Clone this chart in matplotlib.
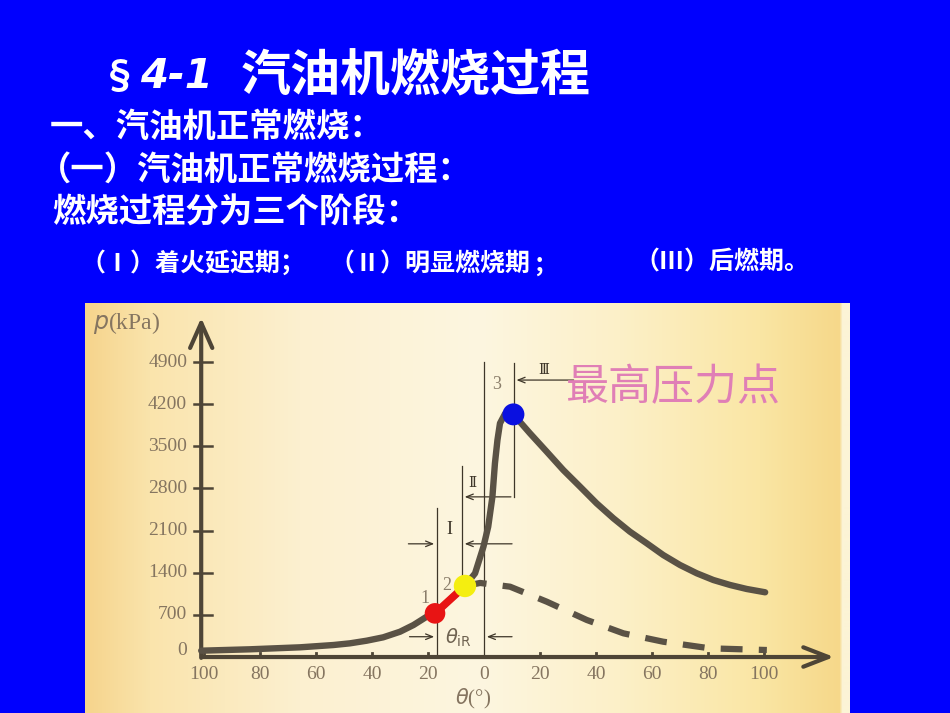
import numpy as np
import matplotlib.pyplot as plt

# crank angle (deg, minus = before TDC) / cylinder pressure (kPa)
theta_fired = [-101, -83.6, -65.7, -53.8, -47.9, -41.9, -36, -30, -25.2, -20.5,
               -17.5, -6.8, -3.2, -0.2, 1.5, 3.0, 3.9, 4.8, 5.7, 7.5, 10.5,
               16.4, 22.4, 28.3, 34.3, 40.2, 46.2, 52.1, 58.1, 64, 70, 76,
               81.9, 87.9, 93.8, 100.4]
p_fired = [105, 128, 161, 199, 227, 271, 327, 420, 531, 669,
           725, 1180, 1390, 1833, 2165, 2663, 3217, 3605, 3882, 4040, 4030,
           3716, 3410, 3106, 2829, 2553, 2304, 2082, 1889, 1694, 1528, 1390,
           1279, 1196, 1130, 1075]

# motoring (no combustion) curve after point 2
theta_motored = [-6.8, -1.4, 9.3, 22.4, 36.7, 49.8, 64, 80.7, 101]
p_motored = [1180, 1230, 1168, 919, 615, 393, 254, 144, 116]

# characteristic points 1, 2, 3
pt_theta = [-17.5, -6.8, 10.5]
pt_p = [725, 1180, 4030]
pt_labels = ['1', '2', '3']
pt_colors = ['#e81414', '#f4ee10', '#0a10e0']

x_ticks = [-100, -80, -60, -40, -20, 0, 20, 40, 60, 80, 100]
x_ticklabels = ['100', '80', '60', '40', '20', '0', '20', '40', '60', '80', '100']
y_ticks = [0, 700, 1400, 2100, 2800, 3500, 4200, 4900]

CJK = ['Noto Sans CJK SC', 'DejaVu Sans']
axis_c = '#4e4536'
tick_c = '#857560'
dim_c = '#3e3629'

fig = plt.figure(figsize=(9.5, 7.13), dpi=100, facecolor='#0000fe')

# slide text
fig.text(101/950, 1-77/713, '§', fontsize=27, color='white', fontweight='bold',
         va='center', family=CJK)
fig.text(140/950, 1-77/713, '4-1', fontsize=29, color='white', fontweight='bold',
         style='italic', va='center', family='DejaVu Sans')
fig.text(241/950, 1-77/713, '汽油机燃烧过程', fontsize=36, color='white',
         fontweight='black', va='center', family=CJK)
fig.text(50/950, 1-127/713, '一、汽油机正常燃烧：', fontsize=24, color='white',
         fontweight='bold', va='center', family=CJK)
fig.text(38/950, 1-170/713, '（一）汽油机正常燃烧过程：', fontsize=24, color='white',
         fontweight='bold', va='center', family=CJK)
fig.text(52/950, 1-213/713, '燃烧过程分为三个阶段：', fontsize=24, color='white',
         fontweight='bold', va='center', family=CJK)
for x0, s in [(80, '（Ⅰ）着火延迟期；'), (330, '（Ⅱ）明显燃烧期 ;'), (634, '（Ⅲ）后燃期。')]:
    fig.text(x0/950, 1-263/713, s, fontsize=18, color='white', fontweight='bold',
             va='center', family=CJK)

# chart picture area
ax = fig.add_axes([85/950, 0, 765/950, 410/713])
x0, x1, y0, y1 = -142.5, 130.7, -930, 5880
ax.set_xlim(x0, x1)
ax.set_ylim(y0, y1)
ax.axis('off')

stops_px = [85, 150, 300, 480, 620, 760, 840, 843, 850]
stops_rgb = [(246, 212, 140), (250, 228, 172), (252, 240, 208), (253, 246, 224),
             (252, 240, 200), (250, 230, 164), (246, 216, 138), (252, 244, 214),
             (252, 244, 214)]
px = np.arange(85, 851)
grad = np.stack([np.interp(px, stops_px, [c[i] for c in stops_rgb]) for i in range(3)], axis=-1) / 255
ax.imshow(grad[None, :, :], extent=(x0, x1, y0, y1), aspect='auto', zorder=0)

# axes with arrows
ax.annotate('', xy=(126, 0), xytext=(-101.5, 0),
            arrowprops=dict(arrowstyle='->, head_length=0.9, head_width=0.35',
                            lw=3, color=axis_c, mutation_scale=20))
ax.annotate('', xy=(-101, 5680), xytext=(-101, -60),
            arrowprops=dict(arrowstyle='->, head_length=0.9, head_width=0.4',
                            lw=3, color=axis_c, mutation_scale=20))

for v in y_ticks[1:]:
    ax.plot([-103.5, -97], [v, v], color=axis_c, lw=1.8, zorder=2)
for v in y_ticks:
    ax.text(-106, v + (100 if v == 0 else 0), str(v), ha='right', va='center',
            fontsize=14, color=tick_c, family='Liberation Serif')
for v, s in zip(x_ticks, x_ticklabels):
    if v != 0:
        ax.plot([v, v], [0, 60], color=axis_c, lw=2, zorder=2)
    ax.text(v, -290, s, ha='center', va='center', fontsize=14, color=tick_c,
            family='Liberation Serif')

ax.text(-139.5, 5550, '$p$(kPa)', ha='left', va='center', fontsize=17, color=tick_c,
        family='Liberation Serif')
ax.text(-4, -700, r'$\theta$(°)', ha='center', va='center', fontsize=15,
        color=tick_c, family='Liberation Serif')

# dimension lines of the three stages
b1, b2, b3, b4 = -16.8, -7.9, 0, 10.6
seg = dict(color=dim_c, lw=0.9, zorder=2)
ax.plot([b1, b1], [0, 2475], **seg)
ax.plot([b2, b2], [1230, 3180], **seg)
ax.plot([b3, b3], [0, 4900], **seg)
ax.plot([b4, b4], [2660, 4880], **seg)

arr = dict(arrowstyle='->, head_length=0.5, head_width=0.2', lw=0.9, color=dim_c,
           mutation_scale=10)
ax.annotate('', xy=(b1, 1880), xytext=(-28, 1880), arrowprops=arr)
ax.annotate('', xy=(b2, 1880), xytext=(11, 1880), arrowprops=arr)
ax.annotate('', xy=(b2, 2660), xytext=(b4, 2660), arrowprops=arr)
ax.annotate('', xy=(b4, 4600), xytext=(33, 4600), arrowprops=arr)
ax.annotate('', xy=(b1, 337), xytext=(-27.6, 337), arrowprops=arr)
ax.annotate('', xy=(b3, 337), xytext=(11, 337), arrowprops=arr)

ax.text(-12.4, 2110, 'I', ha='center', va='center', fontsize=13, color=dim_c,
        family='Liberation Serif')
ax.text(-4.3, 2890, 'Ⅱ', ha='center', va='center', fontsize=10, color=dim_c,
        family=['DejaVu Serif'])
ax.text(21.2, 4770, 'Ⅲ', ha='center', va='center', fontsize=10, color=dim_c,
        family=['DejaVu Serif'])
ax.text(-9.0, 310, r'$\theta_{\mathrm{iR}}$', ha='center', va='center', fontsize=14,
        color='#6e6250')

# curves
ax.plot(theta_motored, p_motored, color='#5a5245', lw=4.5, dashes=(3.5, 2.6),
        solid_capstyle='butt', zorder=3)
ax.plot(theta_fired, p_fired, color='#5a5245', lw=4.6, solid_joinstyle='round',
        solid_capstyle='round', zorder=4)
ax.plot(pt_theta[:2], pt_p[:2], color='#e81414', lw=5.5, solid_capstyle='round',
        zorder=5)
ax.scatter(pt_theta, pt_p, s=[220, 260, 250], c=pt_colors, zorder=6, lw=0)
for t, p, s in zip(pt_theta, pt_p, pt_labels):
    dx, dy = {'1': (-3.5, 255), '2': (-6.5, 16), '3': (-6.0, 490)}[s]
    ax.text(t + dx, p + dy, s, ha='center', va='center', fontsize=13, color='#8a7d6a',
            family='Liberation Serif')

ax.text(67.5, 4470, '最高压力点', ha='center', va='center', fontsize=31,
        color='#e07fb6', fontweight='light', family=CJK)

fig.savefig('out.png', dpi=100, facecolor=fig.get_facecolor())
